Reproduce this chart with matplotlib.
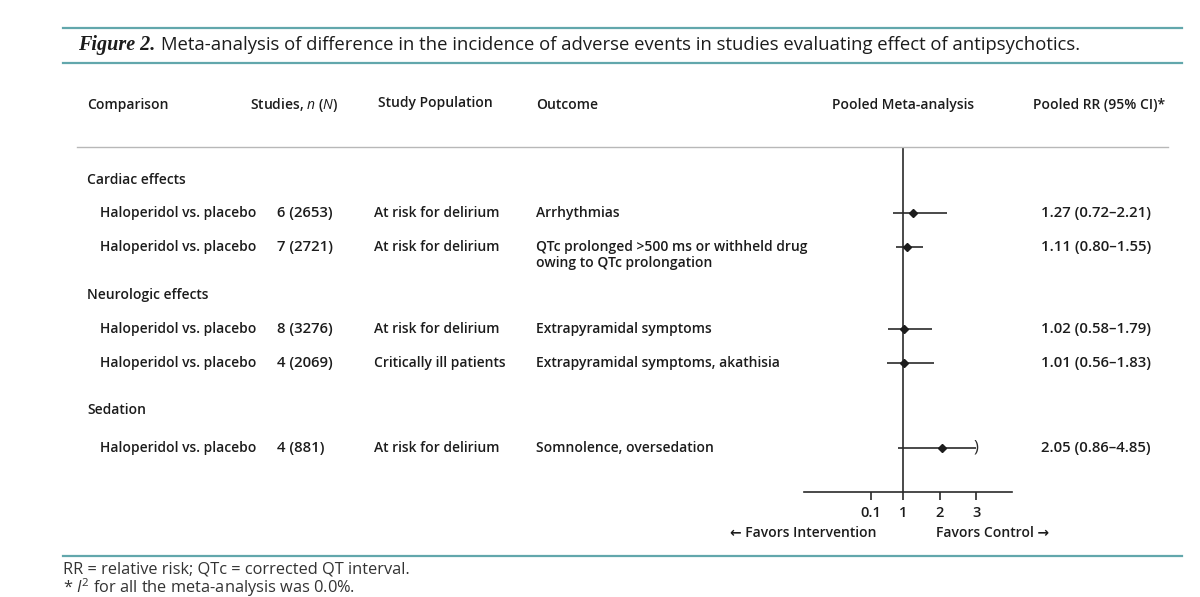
import numpy as np
import matplotlib
matplotlib.use("Agg")
import matplotlib.pyplot as plt

plt.rcParams["font.family"] = ["Open Sans", "DejaVu Sans"]
plt.rcParams["mathtext.fontset"] = "custom"
plt.rcParams["mathtext.rm"] = "Open Sans"
plt.rcParams["mathtext.it"] = "Open Sans:italic"
plt.rcParams["mathtext.bf"] = "Open Sans:bold"

# Datos de la tabla.
groups = ["Cardiac effects", "Neurologic effects", "Sedation"]
comparison = ["Haloperidol vs. placebo"] * 5
studies = ["6 (2653)", "7 (2721)", "8 (3276)", "4 (2069)", "4 (881)"]
population = ["At risk for delirium", "At risk for delirium", "At risk for delirium",
              "Critically ill patients", "At risk for delirium"]
outcome = ["Arrhythmias",
           "QTc prolonged >500 ms or withheld drug\nowing to QTc prolongation",
           "Extrapyramidal symptoms",
           "Extrapyramidal symptoms, akathisia",
           "Somnolence, oversedation"]
rr = np.array([1.27, 1.11, 1.02, 1.01, 2.05])
lo = np.array([0.72, 0.80, 0.58, 0.56, 0.86])
hi = np.array([2.21, 1.55, 1.79, 1.83, 4.85])
ticks = [0.1, 1, 2, 3]
x_cap = 3.0   # donde se corta el IC que se sale

W, H = 1200, 597
teal = "#62a7ac"
ink = "#1c1c1c"

# Posiciones (pixeles) de las filas.
y_head = 105
y_groups = [180, 295, 410]
y_rows = [213, 247, 329, 363, 448]


def fx(x):
    return x / W


def fy(y):
    return 1 - y / H


fig = plt.figure(figsize=(W / 100, H / 100), dpi=100)


def txt(x, y, s, **kw):
    kw.setdefault("fontsize", 10)
    kw.setdefault("color", ink)
    kw.setdefault("fontweight", "semibold")
    kw.setdefault("va", "center")
    return fig.text(fx(x), fy(y), s, **kw)


# Lineas horizontales.
for y, c, lw, x0, x1 in [(28, teal, 1.6, 63, 1182), (63, teal, 1.6, 63, 1182),
                         (147, "#b8b8b8", 1.0, 77, 1168), (556, teal, 1.6, 63, 1182)]:
    fig.add_artist(plt.Line2D([fx(x0), fx(x1)], [fy(y), fy(y)], color=c, lw=lw))

# Titulo.
t1 = txt(78, 45, "Figure 2.", family=["Liberation Serif"], style="italic",
         fontweight="bold", fontsize=14.5)
fig.canvas.draw()
bb = t1.get_window_extent()
txt(bb.x1 + 6, 45, "Meta-analysis of difference in the incidence of adverse events in "
    "studies evaluating effect of antipsychotics.", fontweight="normal", fontsize=13.3)

# Encabezados.
txt(87, y_head, "Comparison")
txt(250, y_head, r"Studies, $\mathit{n}$ ($\mathit{N}$)")
txt(378, y_head - 2, "Study Population")
txt(536, y_head, "Outcome")
txt(903, y_head, "Pooled Meta-analysis", ha="center")
txt(1165, y_head, "Pooled RR (95% CI)*", ha="right")

for g, y in zip(groups, y_groups):
    txt(87, y, g)

for i, y in enumerate(y_rows):
    txt(100, y, comparison[i])
    txt(277, y, studies[i], fontsize=10.7)
    txt(374, y, population[i])
    if "\n" in outcome[i]:
        txt(536, y + 8, outcome[i], linespacing=1.15)
    else:
        txt(536, y, outcome[i])
    txt(1151, y, f"{rr[i]:.2f} ({lo[i]:.2f}\u2013{hi[i]:.2f})", ha="right", fontsize=10.7)

# Grafico del forest plot.
ax = fig.add_axes([fx(804), fy(492), fx(1012) - fx(804), (492 - 148) / H])
ax.set_xlim(-1.74, 3.99)
ax.set_ylim(492, 148)
ax.axvline(1, color="#2a2a2a", lw=1.2)
y_arr = np.array(y_rows)
ax.hlines(y_arr, lo, np.minimum(hi, x_cap), color="#2a2a2a", lw=1.2)
ax.plot(rr, y_arr, "D", color=ink, ms=3.6)
for i in range(len(rr)):
    if hi[i] > x_cap:
        ax.text(x_cap, y_arr[i] - 1, ")", ha="center", va="center", fontsize=12,
                fontweight="normal", color="#2a2a2a")

for s in ["top", "left", "right"]:
    ax.spines[s].set_visible(False)
ax.spines["bottom"].set_color("#2a2a2a")
ax.spines["bottom"].set_linewidth(1.2)
ax.set_yticks([])
ax.set_xticks(ticks)
ax.set_xticklabels(["0.1", "1", "2", "3"], fontsize=10.5, fontweight="semibold", color=ink)
ax.tick_params(axis="x", direction="out", length=6, width=1.2, color="#2a2a2a", pad=4)
ax.patch.set_alpha(0)

txt(877, 533, "\u2190 Favors Intervention", ha="right")
txt(936, 533, "Favors Control \u2192")

# Notas al pie.
txt(63, 569, "RR = relative risk; QTc = corrected QT interval.", fontweight="normal",
    fontsize=11.8, color="#333333")
txt(63, 588, r"* $\mathit{I}^2$ for all the meta-analysis was 0.0%.", fontweight="normal",
    fontsize=11.8, color="#333333")

fig.savefig("out.png", dpi=100)
